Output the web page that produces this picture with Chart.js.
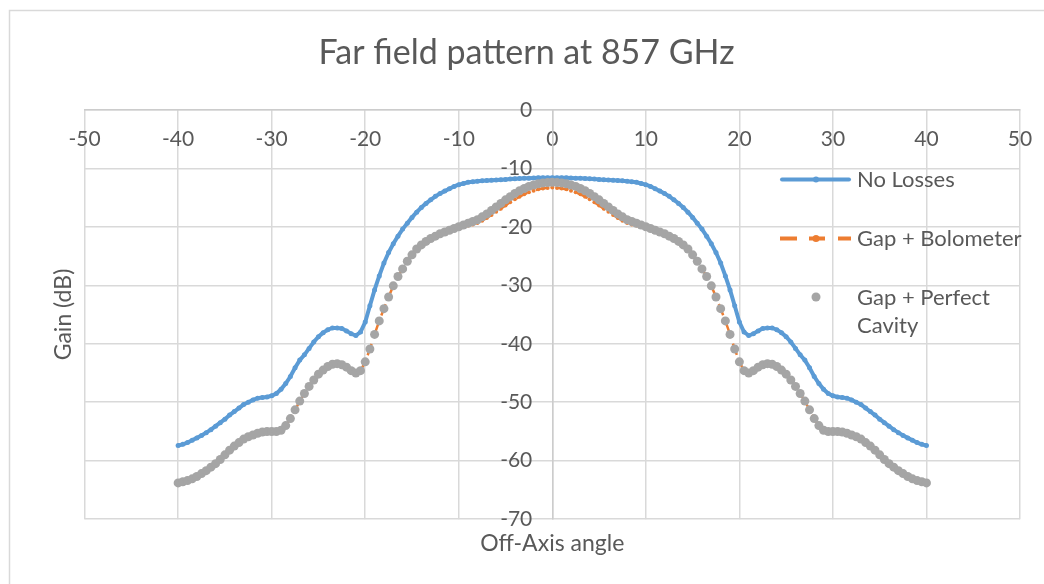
<!DOCTYPE html>
<html>
<head>
<meta charset="utf-8">
<script src="https://cdn.jsdelivr.net/npm/chart.js@4.4.1/dist/chart.umd.min.js"></script>
<style>
  html, body { margin: 0; padding: 0; background: #fff; }
  canvas { display: block; }
</style>
</head>
<body>
<canvas id="myChart" width="1044" height="584"></canvas>
<script>
// off-axis angle, degrees
var angles = [
  -40,-39.5,-39,-38.5,-38,-37.5,-37,-36.5,-36,-35.5,
  -35,-34.5,-34,-33.5,-33,-32.5,-32,-31.5,-31,-30.5,
  -30,-29.5,-29,-28.5,-28,-27.5,-27,-26.5,-26,-25.5,
  -25,-24.5,-24,-23.5,-23,-22.5,-22,-21.5,-21,-20.5,
  -20,-19.5,-19,-18.5,-18,-17.5,-17,-16.5,-16,-15.5,
  -15,-14.5,-14,-13.5,-13,-12.5,-12,-11.5,-11,-10.5,
  -10,-9.5,-9,-8.5,-8,-7.5,-7,-6.5,-6,-5.5,
  -5,-4.5,-4,-3.5,-3,-2.5,-2,-1.5,-1,-0.5,
  0,
  0.5,1,1.5,2,2.5,3,3.5,4,4.5,5,
  5.5,6,6.5,7,7.5,8,8.5,9,9.5,10,
  10.5,11,11.5,12,12.5,13,13.5,14,14.5,15,
  15.5,16,16.5,17,17.5,18,18.5,19,19.5,20,
  20.5,21,21.5,22,22.5,23,23.5,24,24.5,25,
  25.5,26,26.5,27,27.5,28,28.5,29,29.5,30,
  30.5,31,31.5,32,32.5,33,33.5,34,34.5,35,
  35.5,36,36.5,37,37.5,38,38.5,39,39.5,40
];

var noLosses = [
  -57.4,-57.2,-56.9,-56.5,-56.1,-55.7,-55.2,-54.7,-54.1,-53.5,
  -52.9,-52.2,-51.6,-51.0,-50.4,-50.0,-49.6,-49.3,-49.2,-49.1,
  -48.9,-48.5,-47.8,-46.8,-45.6,-44.1,-42.8,-41.9,-40.8,-39.7,
  -38.8,-38.1,-37.6,-37.3,-37.3,-37.4,-37.8,-38.3,-38.6,-38.0,
  -36.3,-33.5,-30.8,-28.4,-26.2,-24.4,-22.9,-21.6,-20.4,-19.4,
  -18.4,-17.5,-16.7,-16.0,-15.4,-14.8,-14.3,-13.9,-13.5,-13.1,
  -12.8,-12.6,-12.4,-12.3,-12.2,-12.15,-12.1,-12.05,-12.0,-11.95,
  -11.9,-11.85,-11.8,-11.75,-11.7,-11.7,-11.65,-11.6,-11.6,-11.6,
  -11.6,
  -11.6,-11.6,-11.6,-11.65,-11.7,-11.7,-11.75,-11.8,-11.85,-11.9,
  -11.95,-12.0,-12.05,-12.1,-12.15,-12.2,-12.3,-12.4,-12.6,-12.8,
  -13.1,-13.5,-13.9,-14.3,-14.8,-15.4,-16.0,-16.7,-17.5,-18.4,
  -19.4,-20.4,-21.6,-22.9,-24.4,-26.2,-28.4,-30.8,-33.5,-36.3,
  -38.0,-38.6,-38.3,-37.8,-37.4,-37.3,-37.3,-37.6,-38.1,-38.8,
  -39.7,-40.8,-41.9,-42.8,-44.1,-45.6,-46.8,-47.8,-48.5,-48.9,
  -49.1,-49.2,-49.3,-49.6,-50.0,-50.4,-51.0,-51.6,-52.2,-52.9,
  -53.5,-54.1,-54.7,-55.2,-55.7,-56.1,-56.5,-56.9,-57.2,-57.4
];

var gapBolometer = [
  -63.8,-63.6,-63.4,-63.1,-62.7,-62.2,-61.7,-61.1,-60.5,-59.8,
  -59.0,-58.2,-57.5,-56.9,-56.3,-55.9,-55.6,-55.3,-55.1,-55.0,
  -55.0,-55.0,-54.8,-54.0,-52.8,-51.3,-49.8,-48.5,-47.3,-46.2,
  -45.2,-44.5,-43.9,-43.5,-43.4,-43.6,-44.0,-44.6,-45.0,-44.6,
  -43.1,-40.9,-38.4,-36.1,-34.0,-32.0,-30.1,-28.5,-27.2,-25.9,
  -24.8,-23.8,-23.1,-22.5,-22.05,-21.65,-21.3,-21.0,-20.7,-20.45,
  -20.2,-20.0,-19.8,-19.6,-19.35,-18.95,-18.5,-18.0,-17.45,-16.9,
  -16.35,-15.8,-15.3,-14.85,-14.45,-14.1,-13.85,-13.6,-13.45,-13.35,
  -13.3,
  -13.35,-13.45,-13.6,-13.85,-14.1,-14.45,-14.85,-15.3,-15.8,-16.35,
  -16.9,-17.45,-18.0,-18.5,-18.95,-19.35,-19.6,-19.8,-20.0,-20.2,
  -20.45,-20.7,-21.0,-21.3,-21.65,-22.05,-22.5,-23.1,-23.8,-24.8,
  -25.9,-27.2,-28.5,-30.1,-32.0,-34.0,-36.1,-38.4,-40.9,-43.1,
  -44.6,-45.0,-44.6,-44.0,-43.6,-43.4,-43.5,-43.9,-44.5,-45.2,
  -46.2,-47.3,-48.5,-49.8,-51.3,-52.8,-54.0,-54.8,-55.0,-55.0,
  -55.0,-55.1,-55.3,-55.6,-55.9,-56.3,-56.9,-57.5,-58.2,-59.0,
  -59.8,-60.5,-61.1,-61.7,-62.2,-62.7,-63.1,-63.4,-63.6,-63.8
];

var gapPerfectCavity = [
  -63.8,-63.6,-63.4,-63.1,-62.7,-62.2,-61.7,-61.1,-60.5,-59.8,
  -59.0,-58.2,-57.5,-56.9,-56.3,-55.9,-55.6,-55.3,-55.1,-55.0,
  -55.0,-55.0,-54.8,-54.0,-52.8,-51.3,-49.8,-48.5,-47.3,-46.2,
  -45.2,-44.5,-43.9,-43.5,-43.4,-43.6,-44.0,-44.6,-45.0,-44.6,
  -43.1,-40.9,-38.4,-36.1,-34.0,-32.0,-30.1,-28.5,-27.2,-25.9,
  -24.8,-23.8,-23.1,-22.5,-22.0,-21.6,-21.2,-20.9,-20.6,-20.3,
  -20.0,-19.7,-19.4,-19.1,-18.8,-18.3,-17.8,-17.2,-16.6,-16.0,
  -15.4,-14.85,-14.3,-13.85,-13.45,-13.1,-12.85,-12.65,-12.5,-12.45,
  -12.4,
  -12.45,-12.5,-12.65,-12.85,-13.1,-13.45,-13.85,-14.3,-14.85,-15.4,
  -16.0,-16.6,-17.2,-17.8,-18.3,-18.8,-19.1,-19.4,-19.7,-20.0,
  -20.3,-20.6,-20.9,-21.2,-21.6,-22.0,-22.5,-23.1,-23.8,-24.8,
  -25.9,-27.2,-28.5,-30.1,-32.0,-34.0,-36.1,-38.4,-40.9,-43.1,
  -44.6,-45.0,-44.6,-44.0,-43.6,-43.4,-43.5,-43.9,-44.5,-45.2,
  -46.2,-47.3,-48.5,-49.8,-51.3,-52.8,-54.0,-54.8,-55.0,-55.0,
  -55.0,-55.1,-55.3,-55.6,-55.9,-56.3,-56.9,-57.5,-58.2,-59.0,
  -59.8,-60.5,-61.1,-61.7,-62.2,-62.7,-63.1,-63.4,-63.6,-63.8
];

var seriesNames = ["No Losses", "Gap + Bolometer", "Gap + Perfect Cavity"];
var xTicks = [-50, 50, 10];   // min, max, step
var yTicks = [-70, 0, 10];

var FONT = "Lato, 'Open Sans', sans-serif";
var TEXT = "#595959";
var GRID = "#d9d9d9";

function pts(vals) {
  return angles.map(function (a, i) { return { x: a, y: vals[i] }; });
}

// outer chart frame, y tick labels left of the x=0 axis, and the legend
// (excel puts the legend over the plot area)
var excelBits = {
  id: 'excelBits',
  beforeDraw: function (chart) {
    var c = chart.ctx;
    c.save();
    c.fillStyle = '#fff';
    c.fillRect(0, 0, chart.width, chart.height);
    c.strokeStyle = GRID;
    c.lineWidth = 1.5;
    c.strokeRect(9.5, 10.5, chart.width + 20, chart.height + 20);
    c.restore();
  },
  afterDraw: function (chart) {
    var c = chart.ctx;
    var xs = chart.scales.x, ys = chart.scales.y;
    c.save();

    // y tick labels
    c.font = "21px " + FONT;
    c.fillStyle = TEXT;
    c.textAlign = 'right';
    c.textBaseline = 'middle';
    var x0 = xs.getPixelForValue(0) - 20;
    ys.ticks.forEach(function (t) {
      c.fillText(String(t.value), x0, ys.getPixelForValue(t.value));
    });

    // legend
    c.font = "22px " + FONT;
    c.textAlign = 'left';

    c.strokeStyle = '#5b9bd5';
    c.lineWidth = 4;
    c.lineCap = 'round';
    c.beginPath(); c.moveTo(782, 179.5); c.lineTo(849, 179.5); c.stroke();
    c.fillStyle = '#5b9bd5';
    c.beginPath(); c.arc(816, 179.5, 3, 0, Math.PI * 2); c.fill();
    c.fillStyle = TEXT;
    c.fillText(seriesNames[0], 857, 180);

    c.strokeStyle = '#ed7d31';
    c.lineWidth = 4;
    c.lineCap = 'butt';
    c.beginPath();
    c.moveTo(780, 238.5); c.lineTo(797, 238.5);
    c.moveTo(809, 238.5); c.lineTo(825, 238.5);
    c.moveTo(838, 238.5); c.lineTo(851, 238.5);
    c.stroke();
    c.fillStyle = '#ed7d31';
    c.beginPath(); c.arc(816, 238.5, 3.5, 0, Math.PI * 2); c.fill();
    c.fillStyle = TEXT;
    c.fillText(seriesNames[1], 857, 239);

    c.fillStyle = '#a5a5a5';
    c.beginPath(); c.arc(816, 297, 4.5, 0, Math.PI * 2); c.fill();
    c.fillStyle = TEXT;
    c.fillText("Gap + Perfect", 857, 297.5);
    c.fillText("Cavity", 857, 326);
    c.restore();
  }
};

var ctx = document.getElementById("myChart");

var myChart = new Chart(ctx, {
  type: 'scatter',
  data: {
    datasets: [{
      label: seriesNames[0],
      data: pts(noLosses),
      showLine: true,
      borderColor: '#5b9bd5',
      backgroundColor: '#5b9bd5',
      borderWidth: 4,
      pointRadius: 2.5,
      pointBorderWidth: 0,
      order: 2
    }, {
      label: seriesNames[1],
      data: pts(gapBolometer),
      showLine: true,
      borderColor: '#ed7d31',
      backgroundColor: '#ed7d31',
      borderWidth: 2.5,
      borderDash: [12, 9],
      pointRadius: 2,
      pointBorderWidth: 0,
      order: 1
    }, {
      label: seriesNames[2],
      data: pts(gapPerfectCavity),
      showLine: false,
      backgroundColor: '#a5a5a5',
      borderColor: '#a5a5a5',
      pointRadius: 4.5,
      pointBorderWidth: 0,
      order: 0
    }]
  },
  options: {
    responsive: false,
    animation: false,
    layout: {
      padding: { left: 33, right: 24, top: 0, bottom: 26.2 }
    },
    plugins: {
      legend: { display: false },
      tooltip: { enabled: false },
      title: {
        display: true,
        text: 'Far field pattern at 857 GHz',
        color: TEXT,
        font: { family: FONT, size: 34, weight: 'normal' },
        padding: { top: 33, bottom: 36 }
      }
    },
    scales: {
      x: {
        type: 'linear',
        position: { y: 0 },
        min: xTicks[0], max: xTicks[1],
        ticks: { stepSize: xTicks[2], color: TEXT, padding: 0, font: { family: FONT, size: 21 } },
        grid: { color: GRID, lineWidth: 1.5, drawTicks: true, tickLength: 17, tickColor: 'rgba(0,0,0,0)' },
        border: { color: '#cccccc', width: 1.5 }
      },
      y: {
        type: 'linear',
        position: { x: 0 },
        min: yTicks[0], max: yTicks[1],
        ticks: { stepSize: yTicks[2], display: false },
        grid: { color: GRID, lineWidth: 1.5, drawTicks: false },
        border: { color: '#cccccc', width: 1.5 }
      },
      xTitle: {
        type: 'linear',
        position: 'bottom',
        ticks: { display: false },
        grid: { display: false, drawTicks: false },
        border: { display: false },
        title: {
          display: true, text: 'Off-Axis angle', color: TEXT,
          font: { family: FONT, size: 23 }, padding: { top: 11, bottom: 0 }
        }
      },
      yTitle: {
        type: 'linear',
        position: 'left',
        ticks: { display: false },
        grid: { display: false, drawTicks: false },
        border: { display: false },
        title: {
          display: true, text: 'Gain (dB)', color: TEXT,
          font: { family: FONT, size: 23 }, padding: { top: 17, bottom: 7 }
        }
      }
    }
  },
  plugins: [excelBits]
});
</script>
</body>
</html>
